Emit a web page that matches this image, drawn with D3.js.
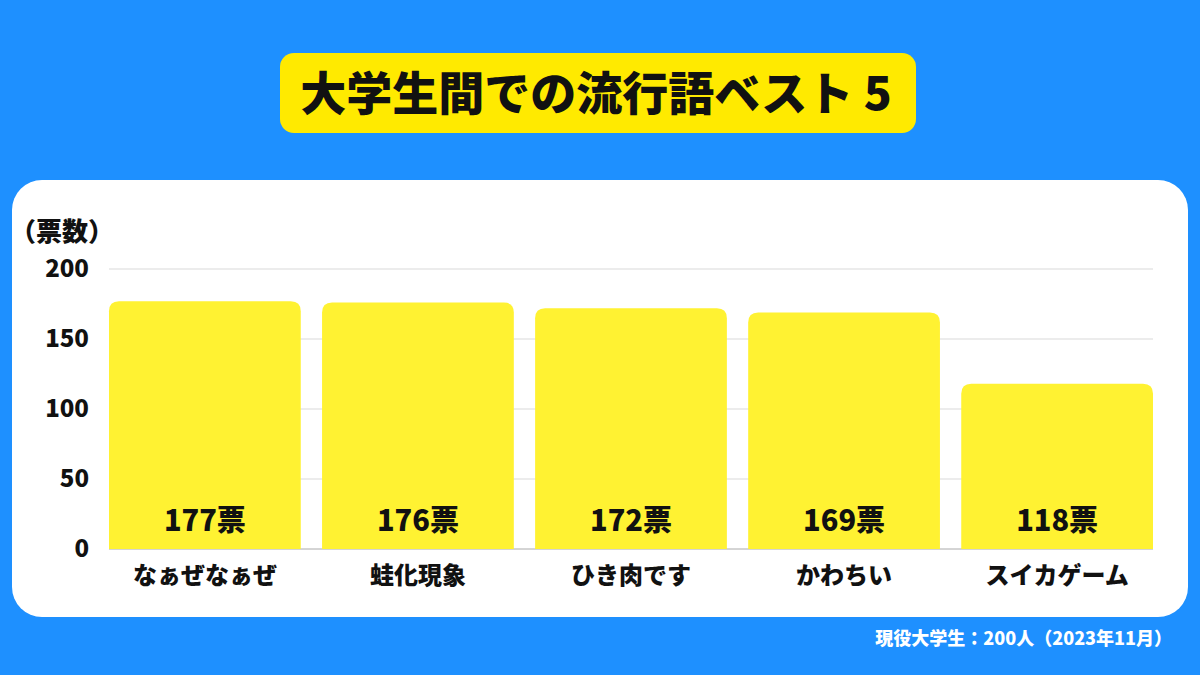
<!DOCTYPE html>
<html lang="ja">
<head>
<meta charset="utf-8">
<title>大学生間での流行語ベスト5</title>
<script src="https://d3js.org/d3.v7.min.js"></script>
<style>
  html, body { margin: 0; padding: 0; background: #1e90ff; }
  svg { display: block; font-family: "Noto Sans CJK JP", "Noto Sans", sans-serif; }
</style>
</head>
<body>
<div id="chart"></div>
<script>
// Data
const words = ["なぁぜなぁぜ", "蛙化現象", "ひき肉です", "かわちい", "スイカゲーム"];
const votes = [177, 176, 172, 169, 118];
const yTicks = [0, 50, 100, 150, 200];

const W = 1200, H = 675;
const plot = { left: 109, right: 1153, top: 269, bottom: 549 };

const svg = d3.select("#chart").append("svg")
    .attr("width", W)
    .attr("height", H);

svg.append("rect").attr("width", W).attr("height", H).attr("fill", "#1e90ff");

// Title box
svg.append("rect")
    .attr("x", 280).attr("y", 53)
    .attr("width", 636).attr("height", 80)
    .attr("rx", 14)
    .attr("fill", "#ffea00");

svg.append("text")
    .attr("x", 596).attr("y", 110)
    .attr("text-anchor", "middle")
    .attr("font-size", 46)
    .attr("font-weight", 900)
    .attr("fill", "#111")
    .text("大学生間での流行語ベスト 5");

// White panel
svg.append("rect")
    .attr("x", 12).attr("y", 180)
    .attr("width", 1176).attr("height", 437)
    .attr("rx", 30)
    .attr("fill", "#fff");

// Scales
const x = d3.scaleBand()
    .domain(words)
    .range([plot.left, plot.right])
    .paddingInner(0.1)
    .paddingOuter(0);

const y = d3.scaleLinear()
    .domain([0, 200])
    .range([plot.bottom, plot.top]);

// Gridlines
svg.append("g")
    .selectAll("line")
    .data(yTicks)
    .join("line")
    .attr("x1", plot.left).attr("x2", plot.right)
    .attr("y1", d => y(d)).attr("y2", d => y(d))
    .attr("stroke", d => d === 0 ? "#aaa" : "#d9d9d9")
    .attr("stroke-width", 1);

// Y axis labels
const yAxis = svg.append("g")
    .attr("transform", `translate(${plot.left - 20},0)`)
    .call(d3.axisLeft(y).tickValues(yTicks).tickSize(0).tickPadding(0));
yAxis.select(".domain").remove();
yAxis.selectAll("text")
    .attr("font-size", 24)
    .attr("font-weight", 900)
    .attr("fill", "#111")
    .attr("font-family", "\"Noto Sans CJK JP\", sans-serif");

svg.append("text")
    .attr("x", 10).attr("y", 241)
    .attr("font-size", 26)
    .attr("font-weight", 900)
    .attr("fill", "#111")
    .text("（票数）");

// Bars with rounded top corners
const r = 10;
function barPath(d, i) {
    const x0 = x(words[i]), x1 = x0 + x.bandwidth();
    const y0 = y(d), yb = y(0);
    return `M${x0},${yb} V${y0 + r} Q${x0},${y0} ${x0 + r},${y0} H${x1 - r} Q${x1},${y0} ${x1},${y0 + r} V${yb} Z`;
}

svg.append("g")
    .selectAll("path")
    .data(votes)
    .join("path")
    .attr("d", barPath)
    .attr("fill", "#fff232");

// Value labels
svg.append("g")
    .selectAll("text")
    .data(votes)
    .join("text")
    .attr("x", (d, i) => x(words[i]) + x.bandwidth() / 2)
    .attr("y", y(0) - 18)
    .attr("text-anchor", "middle")
    .attr("font-size", 29)
    .attr("font-weight", 900)
    .attr("fill", "#111")
    .text(d => d + "票");

// Category labels
const xAxis = svg.append("g")
    .attr("transform", `translate(0,${plot.bottom + 18})`)
    .call(d3.axisBottom(x).tickSize(0).tickPadding(0));
xAxis.select(".domain").remove();
xAxis.selectAll("text")
    .attr("font-size", 24)
    .attr("font-weight", 900)
    .attr("fill", "#111")
    .attr("font-family", "\"Noto Sans CJK JP\", sans-serif");

// Footer
svg.append("text")
    .attr("x", 1172).attr("y", 645)
    .attr("text-anchor", "end")
    .attr("font-size", 18)
    .attr("font-weight", 900)
    .attr("fill", "#fff")
    .text("現役大学生：200人（2023年11月）");
</script>
</body>
</html>
